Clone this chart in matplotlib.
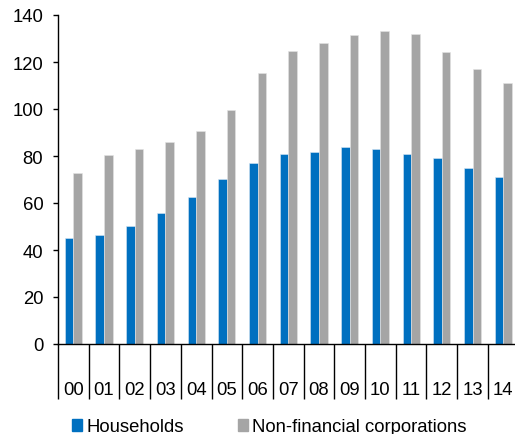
import matplotlib
matplotlib.use("Agg")
import matplotlib.pyplot as plt
import numpy as np
from matplotlib.patches import Patch

plt.rcParams["font.family"] = ["Liberation Sans", "DejaVu Sans"]

years = ["00", "01", "02", "03", "04", "05", "06", "07", "08", "09", "10", "11", "12", "13", "14"]
households = [45.0, 46.5, 50.3, 55.7, 62.4, 70.1, 77.2, 81.0, 81.6, 83.7, 83.1, 81.0, 79.3, 74.9, 71.1]
corporations = [72.8, 80.4, 83.1, 85.8, 90.8, 99.6, 115.3, 124.8, 128.1, 131.3, 133.0, 131.9, 124.3, 117.2, 111.1]
series_names = ["Households", "Non-financial corporations"]

blue = "#0070C0"
grey = "#A5A5A5"

fig = plt.figure(figsize=(5.15, 4.35), dpi=100)
ax = fig.add_axes([58 / 515, 90 / 435, 460.6 / 515, 329 / 435])

x = np.arange(len(years))
w = 0.28
ax.bar(x - w / 2, households, width=w, color=blue, edgecolor="#d8e6f3", linewidth=0.4)
ax.bar(x + w / 2, corporations, width=w, color=grey, edgecolor="#e4e4e4", linewidth=0.4)

ax.set_xlim(-0.5, len(years) - 0.5)
ax.set_ylim(0, 140)
ax.set_yticks(np.arange(0, 141, 20))

for s in ["top", "right"]:
    ax.spines[s].set_visible(False)
ax.spines["left"].set_linewidth(1.0)
ax.spines["bottom"].set_linewidth(1.0)

ax.tick_params(axis="y", direction="out", length=3.6, width=1.0, pad=7, labelsize=13.3)

# category labels centred, separators between categories drawn as long minor ticks
ax.set_xticks(x)
ax.set_xticklabels(years)
ax.tick_params(axis="x", which="major", length=0, pad=27, labelsize=13.3)
ax.set_xticks(np.arange(-0.5, len(years)), minor=True)
ax.tick_params(axis="x", which="minor", direction="out", length=39.6, width=1.0)

handles = [Patch(color=blue), Patch(color=grey)]
fig.legend(handles, series_names, loc="center left", bbox_to_anchor=(72 / 515, 1 - 428 / 435),
           ncol=2, frameon=False, fontsize=13.3, handlelength=0.55, handleheight=0.55,
           handletextpad=0.22, columnspacing=2.95, borderpad=0, borderaxespad=0)

fig.savefig("out.png", dpi=100)
